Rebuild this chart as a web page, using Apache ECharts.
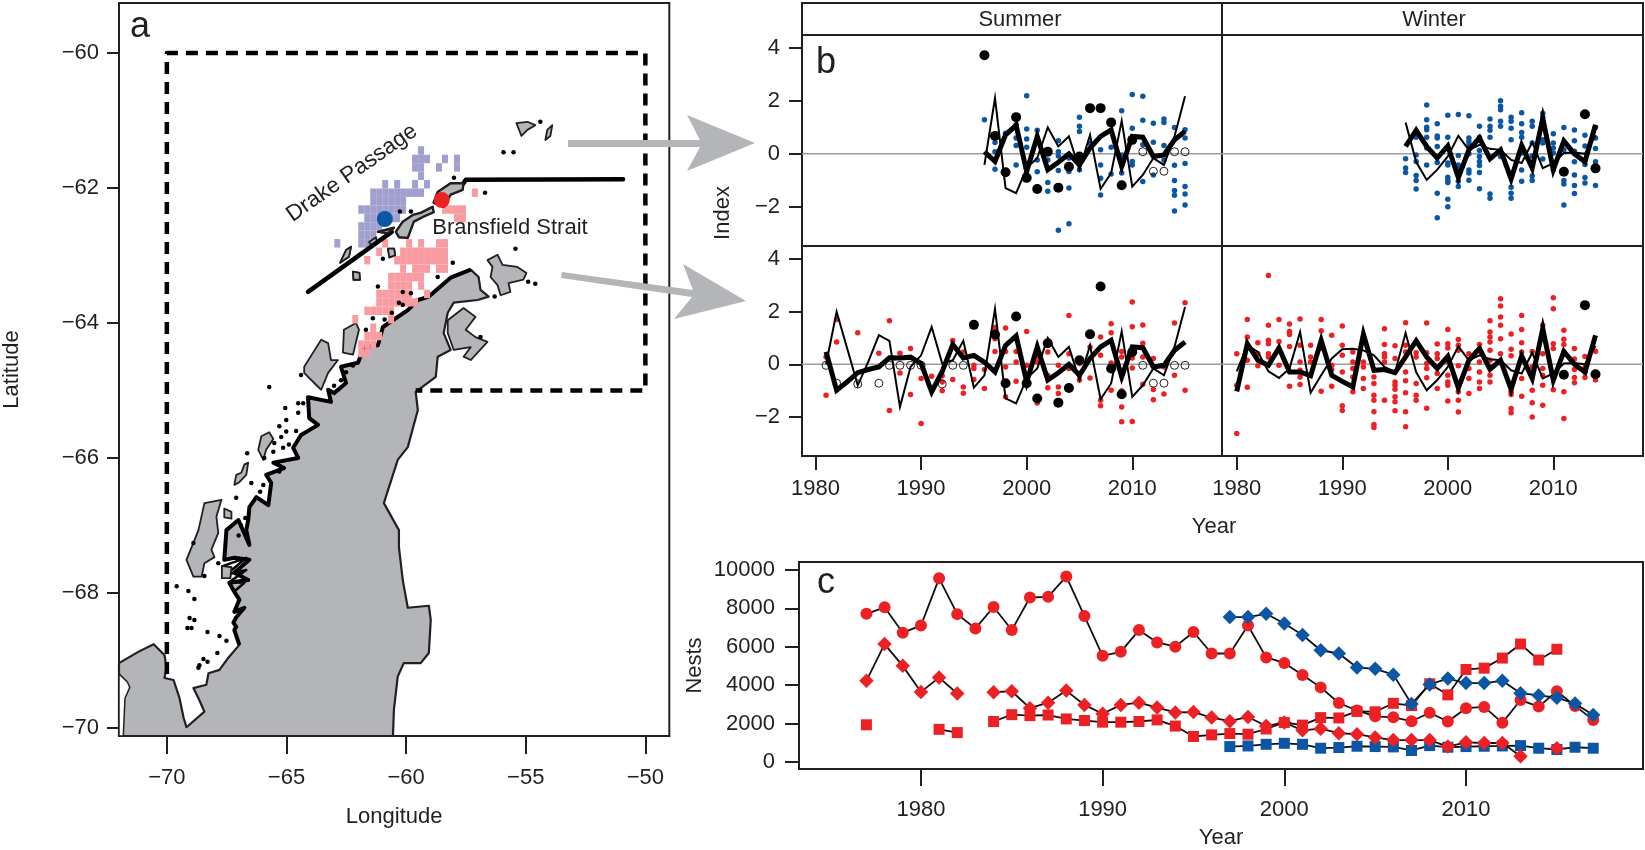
<!DOCTYPE html>
<html><head><meta charset="utf-8">
<style>html,body{margin:0;padding:0;background:#fff}#c{width:1645px;height:850px}</style>
<script src="https://cdn.jsdelivr.net/npm/echarts@6/dist/echarts.min.js"></script>
</head><body><div id="c"></div>
<script>
// ---------- Panel c: nests ----------
const redCircles=[7712,8050,6730,7100,9560,7695,6950,8068,6865,8560,8594,9660,7594,5525,5730,6865,6220,6000,6763,5644,5644,7100,5440,5153,4525,3880,3068,2678,2373,2322,2119,2560,2102,2797,2864,2034,3220,2880,3680,2915,2187];
const redDiamonds=[4220,6136,5000,3644,4390,3560,null,3627,3680,2797,3085,3712,2966,2509,2966,3085,2830,2576,2593,2305,2119,2339,1865,2051,1644,1729,1492,1441,1271,1136,1136,1136,797,1017,983,983,288,null,712,null,null];
const redSquares=[1932,null,null,null,1695,1525,null,2102,2458,2407,2441,2237,2153,2068,2068,2102,2187,1865,1322,1407,1475,1441,1712,2051,1915,2305,2288,2627,2610,3051,2932,4068,3492,4814,4882,5407,6136,5305,5865,null,null];
const redStartYear=1977, blueStartYear=1997;
const blueDiamonds=[7542,7542,7712,7204,6610,5814,5644,4915,4848,4543,3017,4034,4339,4102,4102,4220,3576,3458,3339,3034,2441];
const blueSquares=[797,830,915,966,915,712,746,814,797,780,593,847,763,797,814,830,847,712,644,763,712];

// ---------- Panel b: index lines (one value a year) ----------
const summerStart=1981, winterStart=1980;
const summerThick=[.47,-.99,-.67,-.32,-.2,-.1,.25,.24,.27,.03,-1.05,-.27,.75,.24,.34,.08,-.29,.72,1.08,-.67,.66,-.6,-.32,0,-.42,.22,.66,.91,-.48,.66,.63,-.1,-.04,.53,.85];
const summerThin=[0,2,.6,-.8,.1,1.11,.89,-1.62,-.1,.34,1.42,.03,.15,.89,-.89,-.42,2.11,-1.3,-1.49,-.54,-.16,1,.28,.66,-.6,.72,-1.33,-.73,1.25,-1.24,-.8,-.16,-.42,.66,2.18];
const winterThick=[-1.03,.78,.15,-.04,.62,-.29,-.29,-.44,.91,-.42,-.65,-.86,1.14,-.23,-.2,-.32,.28,.89,.28,-.16,.3,-.9,.15,.6,-.19,.15,-.95,.32,-.54,1.35,-.6,.49,0,-.3,1.1];
const winterThin=[-.27,.72,.47,-.27,-.52,-.16,1.23,-1.08,-.42,.22,.57,.59,.53,.34,-.1,-.3,1.19,-.3,-.99,-.6,-.1,.68,.15,.34,.19,.15,-.23,-.35,.44,-.54,-.35,.03,.05,0,.7];

// black filled and open dots [year,value]
const summerBlackTop=[[1996,3.73],[1997,.68],[1998,-.7],[1999,1.39],[2000,-.91],[2001,-1.33],[2002,.08],[2003,-1.28],[2004,-.49],[2005,-.1],[2006,1.73],[2007,1.73],[2008,1.19],[2009,-1.19],[2010,.53]];
const summerOpenTop=[[2011,.08],[2012,-.66],[2013,-.66],[2014,.08],[2015,.08]];
const summerBlackLow=[[1995,1.5],[1997,1.13],[1998,-.72],[1999,1.82],[2000,-.72],[2001,-1.3],[2002,.8],[2003,-1.46],[2004,-.9],[2005,.15],[2006,1.14],[2007,2.96],[2008,-.16],[2009,-1.14],[2010,.47]];
const summerOpenLow=[[1981,-.04],[1982,-.72],[1984,-.75],[1986,-.72],[1987,-.04],[1988,-.04],[1989,-.04],[1990,-.04],[1992,-.75],[1993,-.04],[1994,-.04],[2011,-.04],[2012,-.72],[2013,-.72],[2014,-.04],[2015,-.04]];
const winterBlackTop=[[2011,-.68],[2013,1.5],[2014,-.55]];
const winterBlackLow=[[2011,-.4],[2013,2.25],[2014,-.38]];

// small dots: [year, values...]
const summerBlue=[[1996,1.29],[1997,.43,.08,-.58],[1998,.78],[1999,1.1,.6,.32,-.42],[2000,2.2,.94,.56,.25],[2001,.89,-.23,-.68],[2002,-.23,-1.09,-1.42],[2003,.5,.08,-.08,-.63,-2.89],[2004,-.16,-.67,-1.29,-2.65],[2005,1.39,1.04,.85,-.6],[2006,.4],[2007,.15,-.42,-.92,-1.56],[2008,.25,-.76],[2009,1.63,-.04,-.42,-.73],[2010,2.25,.97,-.29,-.42],[2011,2.18,1.27,.34,-1.05],[2012,1.16,.44,-.8],[2013,1.32,1.19,.32,-.23],[2014,1,-.43,-1.01,-1.39,-1.57,-2.16],[2015,.91,.6,-.37,-1.24,-1.52,-1.94]];
const winterBlue=[[1996,-.19,-.54,-.71],[1997,.63,-.04,-.29,-.82,-1.01,-1.33],[1998,1.85,1.29,1.01,.91,.63,.22,-.42],[1999,1.14,.68,.6,.28,-.33,-1.49,-2.42],[2000,1.46,.63,-.35,-.42,-.89,-1.01,-1.09,-1.72,-2],[2001,1.49,-.06,-.42,-.54,-1.04,-1.24],[2002,1.44,.6,.47,.34,0,-.61,-.73,-1],[2003,1.04,.63,.13,-.1,-.29,-.44,-.71,-1.32],[2004,1.32,1.04,.89,.63,-1.52,-1.68],[2005,2.01,1.8,1.67,1.23,1.04,-.1],[2006,1.39,1.23,.97,.53,-1.27,-1.49,-1.68],[2007,1.56,1.14,.81,.63,.03,-.61,-1.04],[2008,1.23,1.04,.41,-.08,-.84,-1.01],[2009,1.54,1.39,.53,.41,-.2],[2010,.76,.41,.22,.03,-.6],[2011,1,.15,-1.01,-1.14,-1.94],[2012,.9,.5,.1,-.3,-.8,-1.2,-1.5],[2013,.7,.3,-.4,-.9,-1.1],[2014,1,.6,.2,-.3,-.6,-1.2]];
const summerRed=[[1981,.28,-1.18],[1982,1.7,.85],[1984,1.2],[1986,.42],[1987,1.66,-1.76],[1988,.42,-.33],[1989,.6,-1.15],[1990,-.54,-2.25],[1991,-.46],[1992,-.44,-.67,-1.01],[1993,.9,-.58],[1994,.47,-.86,-1.1],[1995,-.04,-.16,-.58],[1996,-.2,-.92],[1997,1.4,.97,.49],[1998,1.38,.49,-.1,-1.24],[1999,.49,.09,-.65],[2000,1.25,-.04],[2001,.28,.09,-1.47],[2002,.47,-.42,-.89],[2003,-.04,-.86,-1.11],[2004,1.86,.4,-.16],[2005,.03,-.6],[2006,.66,-.52],[2007,1.04,.34,-1.37,-1.58],[2008,1.54,1.2,.05,-.99],[2009,.49,.28,-1.01,-1.63,-2.19],[2010,2.37,1.43,.24,-.14,-2.18],[2011,1.49,.8,.28,-.76],[2012,.22,-.96,-1.35],[2013,-.1,-1.13],[2014,1.57,-.42],[2015,2.34,-.99]];
const winterRed=[[1980,.4,-.8,-2.63],[1981,1.7,1.04,.15,-.87],[1982,.82,.4,-.06],[1983,3.38,1.48,.91,.78,.4,.28],[1984,1.7,.87,.53,-.04],[1985,1.53,1.25,1.13,.68,-.84],[1986,1.72,.72,.09,-.23,-.48,-.77],[1987,.72,.28,.09],[1988,1.7,1.28,.6,-1.03],[1989,1.1,-.04,-.2,-.84],[1990,1.46,.72,.34,-.29,-1.58,-1.76],[1991,.47,.09,-.16,-.48,-1.05],[1992,.09,-.1,-.54,-.92],[1993,-.48,-.73,-1.18,-1.37,-1.81,-2.29,-2.41],[1994,1.35,.75,.4,.28,.09,-1.37],[1995,.7,.22,-.67,-.8,-.95,-1.24,-1.43,-1.77],[1996,1.58,.72,.47,-.29,-.63,-1.08,-1.81,-2.38],[1997,.44,.28,-.73,-1.18,-1.37],[1998,1.57,.44,.03,-.16,-.51,-1.67],[1999,.77,.4,.22,-.1,-.35,-.92],[2000,1.32,.78,.62,.09,-.42,-.67,-.8,-1.4],[2001,.94,.72,.53,-.06,-1.05,-1.37,-1.82],[2002,.4,-.16,-.54,-1.11],[2003,.75,.09,-.29,-.67,-.92],[2004,1.66,1.23,1.04,.85,.53,.15,-.42,-.67],[2005,2.49,2.22,1.8,1.48,.97,.4],[2006,1.15,.57,.32,-1.05,-1.15,-1.68,-1.84],[2007,1.86,1.32,.82,.47,-.54,-1.22],[2008,.49,-.1,-.99,-1.46,-2.01],[2009,1.48,.4,-.16,-.42,-.8,-1.56],[2010,2.53,2.11,.78,.6,-.97],[2011,1.29,.95,.75,.47,-1.05,-2.06],[2012,.6,.2,-.2,-.5,-.7],[2013,.3,-.1,-.3,-.5],[2014,.5,-.6]];

// ---------- Panel a: map, all in [longitude, latitude] ----------
const landWest=[[-70.55,-68.76],[-70.1,-68.92],[-70.01,-69.11],[-70.1,-69.26],[-69.72,-69.29],[-69.47,-69.56],[-69.3,-69.85],[-69.18,-69.99],[-68.43,-69.76],[-68.64,-69.59],[-68.89,-69.41],[-68.35,-69.36],[-68.26,-69.19],[-67.8,-69.14],[-67.43,-68.96],[-66.97,-68.77],[-67.18,-68.55],[-67.1,-68.5],[-67.22,-68.44],[-67.1,-68.36],[-66.76,-68.22],[-67.18,-68.28],[-66.97,-68.1],[-67.22,-67.96],[-67.39,-67.85],[-66.6,-67.81],[-67.18,-67.7],[-66.55,-67.51],[-67.18,-67.48],[-67.6,-67.51],[-67.51,-67.07],[-67.01,-66.92],[-66.55,-67.29],[-66.68,-67.07],[-66.6,-66.92],[-66.55,-66.73],[-66.26,-66.58],[-65.76,-66.7],[-65.64,-66.37],[-65.85,-66.25],[-65.1,-66.15],[-65.55,-66.07],[-64.51,-66],[-64.72,-65.85],[-64.39,-65.66],[-63.68,-65.51],[-64.05,-65.41],[-64.1,-65.1],[-63.14,-65.17],[-63.26,-64.99],[-63.01,-65.04],[-62.51,-64.89],[-62.72,-64.65],[-62.01,-64.59],[-61.76,-64.36],[-61.18,-64.33],[-60.97,-64.06],[-59.93,-63.81],[-59.51,-63.66],[-59.05,-63.61],[-58.14,-63.33],[-57.3,-63.21]];
const landEast=[[-56.97,-63.32],[-56.89,-63.51],[-56.55,-63.61],[-57.01,-63.66],[-58.01,-63.7],[-58.26,-63.85],[-58.43,-64.15],[-58.14,-64.4],[-58.68,-64.5],[-58.76,-64.8],[-59.6,-65.02],[-59.51,-65.29],[-59.93,-65.84],[-60.35,-66.03],[-60.93,-66.67],[-60.3,-67.07],[-60.3,-67.32],[-60.14,-67.81],[-59.93,-68.22],[-59.05,-68.19],[-58.97,-68.4],[-59.05,-68.89],[-59.39,-69.04],[-60.1,-69.04],[-60.35,-69.24],[-60.51,-69.73],[-60.55,-70.12],[-72,-70.12],[-72,-69.04],[-71.18,-68.87]];
const whiteNotch=[[-72,-69.2],[-71.65,-69.32],[-71.55,-69.4],[-71.75,-69.56],[-71.82,-70.12],[-72,-70.12]];
const islands=[
[[-69.18,-67.51],[-68.68,-67.07],[-68.43,-66.67],[-67.72,-66.62],[-67.93,-66.87],[-67.85,-67.11],[-68.14,-67.36],[-68.01,-67.47],[-68.43,-67.56],[-68.55,-67.76],[-68.89,-67.76]],
[[-67.6,-66.75],[-67.3,-66.8],[-67.3,-66.9],[-67.6,-66.88]],
[[-67.18,-66.4],[-67.1,-66.25],[-66.89,-66.22],[-66.76,-66.1],[-66.6,-66.07],[-66.68,-66.25],[-66.97,-66.36]],
[[-66.18,-65.88],[-66.05,-65.68],[-65.72,-65.62],[-65.55,-65.72],[-65.85,-65.88],[-65.97,-66.03]],
[[-64.26,-64.65],[-63.89,-64.44],[-63.55,-64.25],[-63.26,-64.3],[-63.14,-64.55],[-62.85,-64.55],[-63.26,-64.74],[-63.55,-64.99],[-63.84,-64.89],[-64.26,-64.74]],
[[-62.6,-64.1],[-62.1,-64],[-61.97,-64.1],[-62.22,-64.47],[-62.64,-64.44]],
[[-58.26,-63.96],[-57.6,-63.78],[-57.1,-63.91],[-57.51,-64.1],[-57.1,-64.21],[-56.6,-64.28],[-57.3,-64.55],[-57.6,-64.5],[-57.3,-64.36],[-58.01,-64.4],[-58.26,-64.15]],
[[-56.6,-63.07],[-56.18,-62.99],[-55.97,-63.14],[-55.35,-63.17],[-54.97,-63.26],[-55.1,-63.36],[-55.72,-63.41],[-55.64,-63.54],[-56.05,-63.59],[-56.18,-63.44],[-56.47,-63.32],[-56.39,-63.17]],
[[-55.39,-61.04],[-54.93,-61.02],[-54.6,-61.07],[-54.93,-61.14],[-55.18,-61.23]],
[[-53.89,-61.07],[-53.97,-61.23],[-54.18,-61.29],[-54.1,-61.14]],
[[-58.85,-62.22],[-58.68,-62.06],[-58.14,-61.93],[-57.6,-61.93],[-57.64,-62.03],[-58.14,-62.1],[-58.43,-62.28]],
[[-60.43,-62.65],[-60.14,-62.5],[-59.72,-62.4],[-59.39,-62.37],[-58.89,-62.28],[-58.85,-62.36],[-59.3,-62.43],[-59.68,-62.5],[-59.93,-62.74],[-60.3,-62.73]],
[[-61.18,-62.65],[-60.51,-62.59],[-60.76,-62.67]],
[[-62.76,-63.11],[-62.51,-62.92],[-62.3,-62.87],[-62.39,-63.02]],
[[-61.55,-62.8],[-61.26,-62.73],[-61.22,-62.81],[-61.47,-62.84]],
[[-60.76,-62.9],[-60.5,-62.9],[-60.46,-63],[-60.7,-63.03]],
[[-62.22,-63.24],[-61.95,-63.26],[-61.93,-63.36],[-62.2,-63.36]],
[[-67.7,-67.6],[-67.3,-67.62],[-67.35,-67.78],[-67.7,-67.78]]
];
const fjordScribble=[[-67.64,-67.6],[-66.68,-67.48],[-67.51,-67.73],[-66.68,-67.66],[-67.39,-67.84],[-66.76,-67.85],[-67.22,-67.99]];
const islets=[[-56.7,-62.07],[-58,-61.85],[-60.26,-62.35],[-59.8,-62.35],[-55.43,-62.9],[-60.97,-63.05],[-58.05,-63.11],[-58.68,-63.32],[-61.18,-63.46],[-60.14,-63.54],[-59.8,-63.56],[-60.14,-63.73],[-61.68,-64.1],[-61.39,-63.93],[-54.9,-63.39],[-54.6,-63.42],[-56.3,-63.61],[-55.93,-61.47],[-55.51,-61.47],[-54.39,-61.02],[-65.72,-64.95],[-56.89,-64.21],[-64.39,-64.77],[-64.51,-65.19],[-64.3,-65.19],[-65.05,-65.26],[-64.51,-65.33],[-65.01,-65.44],[-65.3,-65.53],[-65.01,-65.61],[-65.22,-65.69],[-65.51,-65.78],[-65.14,-65.85],[-65.55,-65.91],[-65.93,-66],[-66.64,-65.93],[-66.47,-66.37],[-65.97,-66.4],[-67.1,-66.59],[-66.72,-66.89],[-68.89,-67.26],[-67.85,-67.56],[-68.43,-67.75],[-69.59,-67.9],[-69.1,-67.97],[-68.85,-68.09],[-69.05,-68.37],[-68.85,-68.4],[-69.14,-68.52],[-68.97,-68.52],[-68.3,-68.58],[-67.8,-68.64],[-67.51,-68.71],[-67.89,-68.89],[-68.47,-68.98],[-68.3,-69.02],[-68.64,-69.07],[-68.68,-69.11],[-62.51,-64.73],[-62.22,-64.63],[-62.72,-64.85],[-63.01,-64.93],[-60.9,-63.95],[-60.6,-63.85],[-60.3,-63.7],[-64.6,-65.6],[-64.9,-65.8],[-65.3,-66.2],[-66.1,-66.5],[-66.9,-67.0],[-67.0,-67.15]];
const studyBox=[[-70,-69.2],[-70,-60],[-50,-60],[-50,-65],[-59.6,-65]];
const divideWest=[[-64.1,-63.54],[-60.6,-62.65]];
const divideEast=[[-57.6,-61.93],[-57.51,-61.88],[-50.93,-61.87]];
const blueSite=[[-60.89,-62.46]], redSite=[[-58.51,-62.18]];
// cells on a 0.25 by 0.125 degree grid: [row, first column, last column]
const gridLon0=-63, gridLat0=-61.383, gridDLon=.25, gridDLat=.125;
const blueCells=[[0,14,14],[1,13,15],[1,18,18],[1,20,20],[2,13,14],[2,17,17],[2,20,20],[3,14,14],[4,8,8],[4,10,10],[4,13,13],[4,15,15],[5,6,14],[6,6,11],[7,4,11],[8,5,10],[9,4,7],[10,4,6],[11,0,0],[11,4,5]];
const pinkCells=[[5,23,23],[7,18,21],[8,20,21],[11,8,8],[11,12,12],[11,14,14],[11,17,18],[12,7,7],[12,11,18],[13,5,5],[13,10,18],[14,11,11],[14,13,15],[14,17,18],[15,9,14],[16,9,12],[16,14,14],[17,7,12],[17,15,15],[18,7,13],[19,5,9],[20,3,3],[20,9,9],[21,6,6],[22,5,7],[23,4,6],[24,4,5]];

// ---------- helpers ----------
const INK='#231f20',RED='#ed2024',BLUE='#0b56a5',LAND='#b4b5b8',FONT='"Liberation Sans",Arial,sans-serif';
const fs=22;
const minus=v=>String(v).replace('-','\u2212');
const cellList=a=>{const o=[];a.forEach(([r,k0,k1])=>{for(let k=k0;k<=k1;k++)o.push([gridLon0+k*gridDLon,gridLat0-r*gridDLat,gridLon0+(k+1)*gridDLon,gridLat0-(r+1)*gridDLat]);});return o;};
const flat=a=>{const o=[];a.forEach(r=>{for(let i=1;i<r.length;i++)o.push([r[0],r[i]]);});return o;};
const byYear=(s,a)=>a.map((v,i)=>[s+i,v]);
function axisCommon(show,vals,tick,margin){return{type:'value',scale:true,show:true,splitLine:{show:false},
 axisLine:{show:show,onZero:false,lineStyle:{color:INK,width:2}},
 axisTick:{show:show,length:tick,customValues:vals,lineStyle:{color:INK,width:2}},
 axisLabel:{show:show,customValues:vals,margin:margin,fontSize:fs,color:INK,fontFamily:FONT,formatter:minus},
 nameTextStyle:{fontSize:fs,color:INK,fontFamily:FONT}};}

const GW=1645,GH=850;
const gridBox=(l,t,r,b)=>({left:l,top:t,width:r-l,height:b-t,show:true,borderColor:INK,borderWidth:2,backgroundColor:'transparent',containLabel:false});
const grids=[gridBox(117,3,669.3,736),gridBox(802,35,1222,246),gridBox(1222,35,1643,246),gridBox(802,246,1222,456),gridBox(1222,246,1643,456),gridBox(799,562,1643,774)];
const XB=[1978.72,2018.5],XW=[1978.6,2018.5],YB=[-3.49,4.5];
const yrT=[1980,1990,2000,2010],idxT=[-2,0,2,4];
const xAxes=[
 Object.assign(axisCommon(true,[-70,-65,-60,-55,-50],18,31),{gridIndex:0,min:-72,max:-49,name:'Longitude',nameLocation:'middle',nameGap:70}),
 Object.assign(axisCommon(false,yrT,14,22),{gridIndex:1,min:XB[0],max:XB[1]}),
 Object.assign(axisCommon(false,yrT,14,22),{gridIndex:2,min:XW[0],max:XW[1]}),
 Object.assign(axisCommon(true,yrT,14,22),{gridIndex:3,min:XB[0],max:XB[1]}),
 Object.assign(axisCommon(true,yrT,14,22),{gridIndex:4,min:XW[0],max:XW[1]}),
 Object.assign(axisCommon(true,yrT,17,30),{gridIndex:5,min:1973.29,max:2019.74,name:'Year',nameLocation:'middle',nameGap:58})
];
const yAxes=[
 Object.assign(axisCommon(true,[-70,-68,-66,-64,-62,-60],12,20),{gridIndex:0,min:-70.12,max:-59.26,name:'Latitude',nameLocation:'middle',nameGap:96}),
 Object.assign(axisCommon(true,idxT,13,22),{gridIndex:1,min:YB[0],max:YB[1]}),
 Object.assign(axisCommon(false,idxT,13,22),{gridIndex:2,min:YB[0],max:YB[1]}),
 Object.assign(axisCommon(true,idxT,13,22),{gridIndex:3,min:YB[0],max:YB[1]}),
 Object.assign(axisCommon(false,idxT,13,22),{gridIndex:4,min:YB[0],max:YB[1]}),
 Object.assign(axisCommon(true,[0,2000,4000,6000,8000,10000],14,24),{gridIndex:5,min:-371,max:10410,name:'Nests',nameLocation:'middle',nameGap:93,nameMoveOverlap:false})
];

const series=[];
const mapAx={xAxisIndex:0,yAxisIndex:0};
const scat=(name,a,z,d,size,color,extra)=>series.push({name,type:'scatter',...a,z,silent:true,data:d,symbolSize:size,itemStyle:Object.assign({color:color,opacity:1},extra||{})});
function cells(name,list,color,z){series.push({name,type:'custom',...mapAx,z,silent:true,data:cellList(list),
 renderItem:(p,api)=>{const a=api.coord([api.value(0),api.value(1)]),b=api.coord([api.value(2),api.value(3)]);
  return{type:'rect',shape:{x:a[0],y:a[1],width:b[0]-a[0],height:b[1]-a[1]},style:{fill:color,stroke:null}};},
 encode:{x:[0,2],y:[1,3]}});}
function polys(name,list,fill,lw,z){series.push({name,type:'custom',...mapAx,z,silent:true,data:list.map((_,i)=>[i]),
 renderItem:(p,api)=>{const pts=list[api.value(0)].map(q=>api.coord(q));
  return{type:'polygon',shape:{points:pts},style:{fill:fill,stroke:INK,lineWidth:lw,lineJoin:'round'}};},encode:{x:[],y:[]}});}
function mapLine(name,d,w,type,z,cap){series.push({name,type:'line',...mapAx,z,silent:true,data:d,showSymbol:false,symbol:'none',lineStyle:{color:'#000',width:w,type:type||'solid',cap:cap||'butt',join:'round'}});}

polys('land',[landWest.concat(landEast)],LAND,2.2,2);
polys('notch',[whiteNotch],'#fff',1.5,3);
mapLine('west coast',landWest.slice(15),4,null,4);
mapLine('fjords',fjordScribble,2.5,null,4);
polys('islands',islands,LAND,1.8,3);
cells('blue cells',blueCells,'#a09fce',5);
cells('pink cells',pinkCells,'#f99ca1',5);
scat('islets',mapAx,6,islets,4.5,'#000');
mapLine('study box',studyBox,4.5,[12,8],7);
mapLine('divide west',divideWest,4.5,null,7,'round');
mapLine('divide east',divideEast,4.5,null,7,'round');
polys('islands over line',islands.slice(10,13),LAND,2.4,8);
polys('islands over cells',islands.slice(13),LAND,1.8,6);
scat('blue site',mapAx,9,blueSite,16,BLUE);
scat('red site',mapAx,9,redSite,16,RED);

function panel(ax,cfg){const a={xAxisIndex:ax,yAxisIndex:ax};const rng=(ax%2===1)?XB:XW;
 series.push({name:'zero',type:'line',...a,z:1,silent:true,showSymbol:false,symbol:'none',data:[[rng[0],0],[rng[1],0]],lineStyle:{color:'#9c9c9c',width:1.5}});
 scat('dots',a,2,flat(cfg.dots),5.5,cfg.color);
 if(cfg.open)scat('open',a,3,cfg.open,8,'rgba(255,255,255,0)',{borderColor:INK,borderWidth:1});
 scat('black',a,3,cfg.black,10,'#000');
 series.push({name:'thin',type:'line',...a,z:4,silent:true,showSymbol:false,symbol:'none',data:cfg.thin,lineStyle:{color:'#000',width:2,join:'miter'}});
 series.push({name:'thick',type:'line',...a,z:5,silent:true,showSymbol:false,symbol:'none',data:cfg.thick,lineStyle:{color:'#000',width:5,join:'miter'}});}
const sThick=byYear(summerStart,summerThick),sThin=byYear(summerStart,summerThin),wThick=byYear(winterStart,winterThick),wThin=byYear(winterStart,winterThin);
panel(1,{dots:summerBlue,color:BLUE,open:summerOpenTop,black:summerBlackTop,thin:sThin.filter(d=>d[0]>=1996),thick:sThick.filter(d=>d[0]>=1996)});
panel(2,{dots:winterBlue,color:BLUE,black:winterBlackTop,thin:wThin.filter(d=>d[0]>=1996),thick:wThick.filter(d=>d[0]>=1996)});
panel(3,{dots:summerRed,color:RED,open:summerOpenLow,black:summerBlackLow,thin:sThin,thick:sThick});
panel(4,{dots:winterRed,color:RED,black:winterBlackLow,thin:wThin,thick:wThick});

function nests(name,arr,start,sym,size,color,z){series.push({name,type:'line',xAxisIndex:5,yAxisIndex:5,z,silent:true,connectNulls:false,showSymbol:true,showAllSymbol:true,symbol:sym,symbolSize:size,data:byYear(start,arr),lineStyle:{color:'#111',width:1.8},itemStyle:{color:color,opacity:1}});}
nests('blue squares',blueSquares,blueStartYear,'rect',11,BLUE,3);
nests('red diamonds',redDiamonds,redStartYear,'diamond',14.5,RED,4);
nests('red squares',redSquares,redStartYear,'rect',11,RED,5);
nests('red circles',redCircles,redStartYear,'circle',12,RED,6);
nests('blue diamonds',blueDiamonds,blueStartYear,'diamond',14.5,BLUE,7);

const txt=(x,y,t,o)=>Object.assign({type:'text',x,y,z:50,silent:true,style:Object.assign({text:t,fill:INK,font:fs+'px '+FONT,align:'center',verticalAlign:'middle'},o&&o.style||{})},o&&o.extra||{});
const letter=(x,y,t)=>txt(x,y,t,{style:{font:'36px '+FONT}});
const arrow=p=>({type:'polygon',z:40,silent:true,shape:{points:p},style:{fill:'#b3b5b8',stroke:null}});
const graphic=[
 {type:'rect',z:10,silent:true,shape:{x:802,y:3,width:841,height:32},style:{fill:'#fff',stroke:INK,lineWidth:2}},
 {type:'line',z:11,silent:true,shape:{x1:1222,y1:3,x2:1222,y2:35},style:{stroke:INK,lineWidth:2}},
 txt(1020,20,'Summer'),txt(1434,20,'Winter'),
 letter(140,27,'a'),letter(826,63,'b'),letter(826,583,'c'),
 txt(723,213,'Index',{extra:{rotation:Math.PI/2}}),
 txt(1214,527,'Year'),
 txt(352,173,'Drake Passage',{extra:{rotation:35*Math.PI/180},style:{font:'22.5px '+FONT}}),
 txt(510,228,'Bransfield Strait'),
 arrow([[568,140],[700,140],[687,115],[755,143],[687,171],[700,147],[568,147]]),
 arrow([[562,272],[693,290],[683,264],[746,301],[674,319],[692,297],[561,278]])
];
const chart=echarts.init(document.getElementById('c'),null,{width:GW,height:GH,renderer:'canvas'});
chart.setOption({animation:false,backgroundColor:'#fff',textStyle:{fontFamily:FONT},grid:grids,xAxis:xAxes,yAxis:yAxes,series,graphic:{elements:graphic},tooltip:{show:false},legend:{show:false}});
</script></body></html>
